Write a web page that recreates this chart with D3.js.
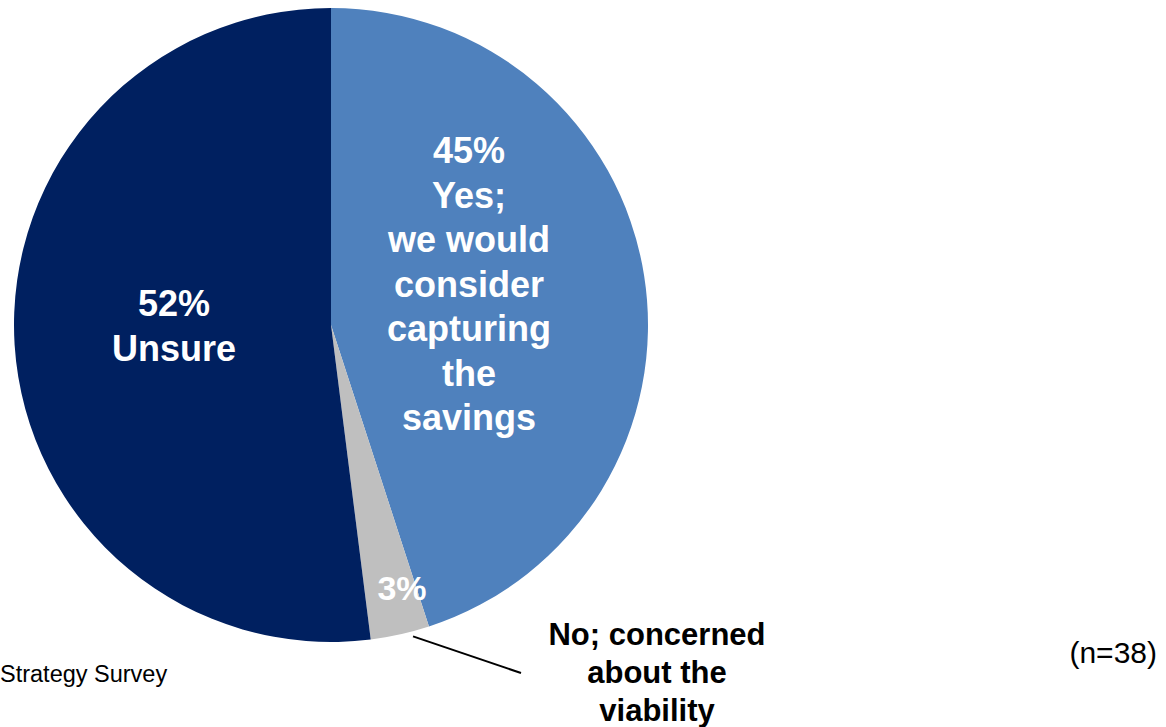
<!DOCTYPE html>
<html>
<head>
<meta charset="utf-8">
<script src="https://cdn.jsdelivr.net/npm/d3@7"></script>
<style>
  html, body { margin: 0; padding: 0; background: #fff; }
  svg { display: block; font-family: "Liberation Sans", Arial, sans-serif; }
</style>
</head>
<body>
<svg id="chart" width="1166" height="727"></svg>
<script>
// Survey answers (share of respondents, %)
const categories = ["Yes; we would consider capturing the savings", "No; concerned about the viability", "Unsure"];
const values = [45, 3, 52];
const percentLabels = ["45%", "3%", "52%"];
const insideLabels = [
  ["Yes;", "we would", "consider", "capturing", "the", "savings"],
  [],
  ["Unsure"]
];
const calloutLabel = ["No; concerned", "about the", "viability"];
const sampleNote = "(n=38)";
const sourceNote = "Strategy Survey";
const colors = ["#4F81BD", "#BFBFBF", "#002060"];

const svg = d3.select("#chart");
const cx = 331, cy = 325, R = 317;

const pie = d3.pie().sort(null).value(d => d)(values);
const arc = d3.arc().innerRadius(0).outerRadius(R);

const g = svg.append("g").attr("transform", `translate(${cx},${cy})`);
g.selectAll("path.slice")
  .data(pie)
  .join("path")
  .attr("class", "slice")
  .attr("d", arc)
  .attr("fill", (d, i) => colors[i]);

// In-slice labels: percentage + description, white bold
const labelPos = [
  { x: 469, y: 163, size: 36, lh: 44.5 },
  { x: 402, y: 600, size: 34, lh: 44 },
  { x: 174, y: 316, size: 36, lh: 45 }
];
pie.forEach((d, i) => {
  const p = labelPos[i];
  const lines = [percentLabels[i], ...insideLabels[i]];
  const t = svg.append("text")
    .attr("text-anchor", "middle")
    .attr("fill", "#fff")
    .attr("font-weight", "bold")
    .attr("font-size", p.size);
  lines.forEach((ln, k) => {
    t.append("tspan").attr("x", p.x).attr("y", p.y + k * p.lh).text(ln);
  });
});

// Leader line from the small slice to its callout
const small = pie[1];
const a = small.startAngle + 0.3 * (small.endAngle - small.startAngle);
const r0 = R + 5;
const x0 = cx + r0 * Math.sin(a), y0 = cy - r0 * Math.cos(a);
svg.append("line")
  .attr("x1", x0).attr("y1", y0)
  .attr("x2", 521).attr("y2", 673)
  .attr("stroke", "#000").attr("stroke-width", 2);

const ct = svg.append("text")
  .attr("text-anchor", "middle")
  .attr("font-weight", "bold")
  .attr("font-size", 31)
  .attr("fill", "#000");
calloutLabel.forEach((ln, k) => {
  ct.append("tspan").attr("x", 657).attr("y", 645 + k * 38).text(ln);
});

svg.append("text")
  .attr("x", 1157).attr("y", 663)
  .attr("text-anchor", "end")
  .attr("font-size", 30)
  .attr("fill", "#000")
  .text(sampleNote);

svg.append("text")
  .attr("x", 0).attr("y", 682)
  .attr("font-size", 23.5)
  .attr("fill", "#000")
  .text(sourceNote);
</script>
</body>
</html>
